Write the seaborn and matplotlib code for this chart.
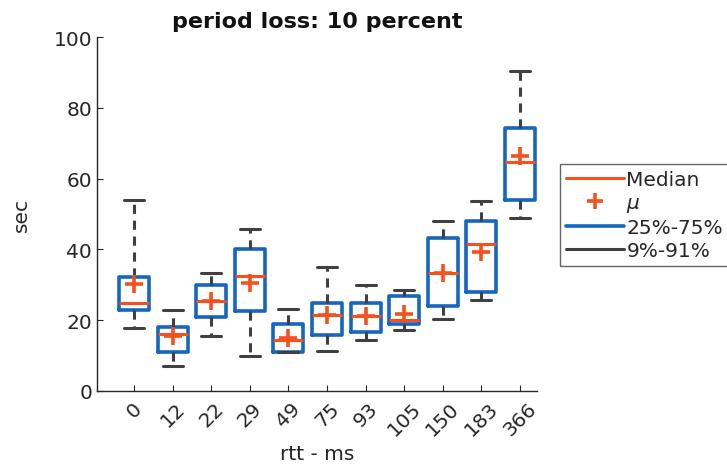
import matplotlib
matplotlib.use("Agg")
import matplotlib.pyplot as plt
import seaborn as sns
import pandas as pd
from matplotlib.lines import Line2D

rtt = ["0", "12", "22", "29", "49", "75", "93", "105", "150", "183", "366"]
p09 = [17.7, 7.2, 15.4, 10.0, 10.9, 11.4, 14.3, 17.2, 20.3, 25.7, 48.9]
q25 = [22.9, 10.9, 20.8, 22.7, 10.9, 15.9, 16.8, 18.9, 24.0, 27.9, 54.0]
median = [25.0, 16.1, 25.4, 32.6, 14.5, 21.5, 21.2, 20.0, 33.4, 41.5, 64.7]
mean = [30.1, 15.4, 25.5, 30.4, 14.9, 21.5, 21.2, 21.8, 33.4, 39.3, 66.4]
q75 = [32.3, 18.0, 29.9, 40.1, 19.0, 25.0, 25.0, 26.9, 43.1, 48.0, 74.3]
p91 = [53.9, 22.9, 33.4, 45.7, 23.1, 35.0, 29.9, 28.5, 48.0, 53.8, 90.4]
yticks = [0, 20, 40, 60, 80, 100]

sns.set_theme(style="white")
plt.rcParams["font.family"] = ["DejaVu Sans"]

BLUE = "#1566C0"
RED = "#F5501E"
GRAY = "#404040"
FS = 14.5

fig = plt.figure(figsize=(7.27, 4.77), dpi=100)
ax = fig.add_axes([97 / 727, 1 - 392 / 477, (537 - 97) / 727, (392 - 38) / 477])

stats = []
for i, lab in enumerate(rtt):
    stats.append(dict(label=lab, whislo=p09[i], q1=q25[i], med=median[i],
                      q3=q75[i], whishi=p91[i], mean=mean[i], fliers=[]))

ax.bxp(stats, positions=list(range(len(rtt))), widths=0.78, showmeans=False,
       showfliers=False, patch_artist=False,
       boxprops=dict(color=BLUE, linewidth=2.6),
       medianprops=dict(color=RED, linewidth=2.2),
       whiskerprops=dict(color=GRAY, linewidth=2.2, linestyle=(0, (3, 2.2))),
       capprops=dict(color=GRAY, linewidth=2.2), capwidths=0.52)

df = pd.DataFrame({"pos": list(range(len(rtt))), "mean": mean})
sns.scatterplot(data=df, x="pos", y="mean", marker="+", s=150, color=RED,
                linewidth=2.6, ax=ax, zorder=5, legend=False)

ax.set_xlim(-0.96, 10.44)
ax.set_ylim(0, 100)
ax.set_yticks(yticks)
ax.set_yticklabels([str(v) for v in yticks], fontsize=FS, color="#262626")
ax.set_xticks(list(range(len(rtt))))
ax.set_xticklabels(rtt, rotation=45, ha="center", fontsize=FS, color="#262626")
ax.tick_params(axis="both", direction="in", length=4, width=0.8, color="#262626",
               left=True, bottom=True)
ax.tick_params(axis="x", pad=5)
for s in ["top", "right"]:
    ax.spines[s].set_visible(False)
for s in ["left", "bottom"]:
    ax.spines[s].set_color("#262626")
    ax.spines[s].set_linewidth(1.0)

ax.set_xlabel("rtt - ms", fontsize=FS, color="#262626", labelpad=4)
ax.set_ylabel("sec", fontsize=FS, color="#262626", labelpad=16)
ax.set_title("period loss: 10 percent", fontsize=16, fontweight="bold", pad=7,
             color="#111111")

handles = [
    Line2D([], [], color=RED, linewidth=2.2),
    Line2D([], [], color=RED, marker="+", linestyle="none", markersize=11,
           markeredgewidth=2.6),
    Line2D([], [], color=BLUE, linewidth=2.6),
    Line2D([], [], color=GRAY, linewidth=2.2),
]
labels = ["Median", r"$\mu$", "25%-75%", "9%-91%"]
leg = fig.legend(handles, labels, loc="upper left",
                 bbox_to_anchor=(560 / 727, 1 - 165 / 477),
                 fontsize=FS, frameon=True, fancybox=False, handlelength=2.9,
                 handletextpad=0.1, borderpad=0.3, labelspacing=0.2,
                 borderaxespad=0)
leg.get_frame().set_edgecolor("#404040")
leg.get_frame().set_linewidth(1.0)

fig.savefig("out.png", dpi=100)
